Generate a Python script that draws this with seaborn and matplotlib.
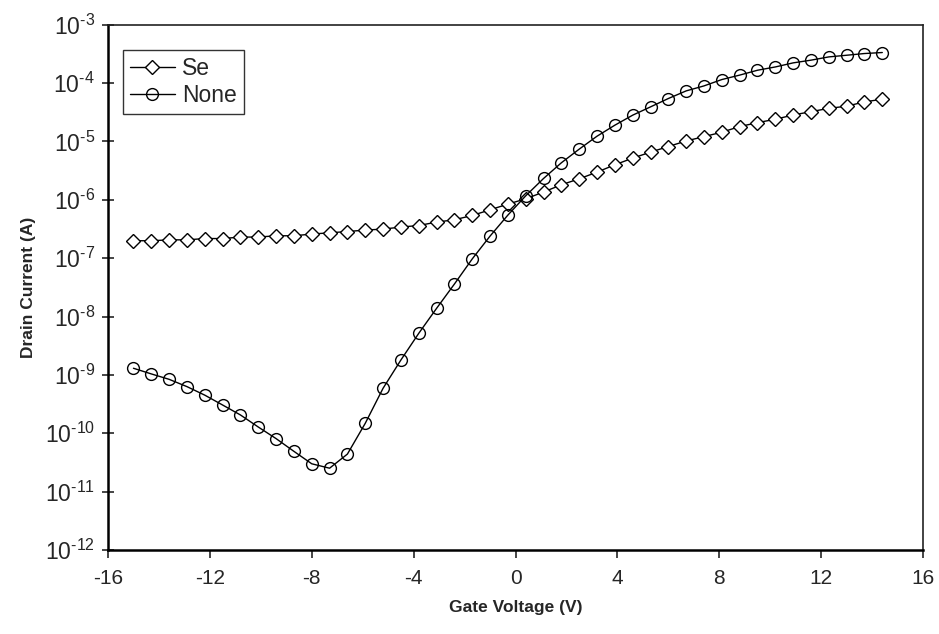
import numpy as np
import pandas as pd
import matplotlib
matplotlib.use("Agg")
import matplotlib.pyplot as plt
import matplotlib.ticker as mticker
import seaborn as sns

gate_voltage = [-15.0, -14.3, -13.6, -12.9, -12.2, -11.5, -10.8, -10.1, -9.4, -8.7,
                -8.0, -7.3, -6.6, -5.9, -5.2, -4.5, -3.8, -3.1, -2.4, -1.7,
                -1.0, -0.3, 0.4, 1.1, 1.8, 2.5, 3.2, 3.9, 4.6, 5.3,
                6.0, 6.7, 7.4, 8.1, 8.8, 9.5, 10.2, 10.9, 11.6, 12.3,
                13.0, 13.7, 14.4]

se_current = [1.99e-7, 1.99e-7, 2.06e-7, 2.06e-7, 2.17e-7, 2.17e-7, 2.30e-7, 2.30e-7, 2.42e-7, 2.42e-7,
              2.59e-7, 2.72e-7, 2.86e-7, 3.03e-7, 3.15e-7, 3.41e-7, 3.63e-7, 4.15e-7, 4.55e-7, 5.39e-7,
              6.74e-7, 8.44e-7, 1.04e-6, 1.36e-6, 1.81e-6, 2.29e-6, 2.98e-6, 3.98e-6, 5.18e-6, 6.56e-6,
              8.19e-6, 1.02e-5, 1.21e-5, 1.44e-5, 1.80e-5, 2.10e-5, 2.40e-5, 2.84e-5, 3.24e-5, 3.69e-5,
              4.02e-5, 4.76e-5, 5.30e-5]

none_current = [1.30e-9, 1.04e-9, 8.4e-10, 6.3e-10, 4.5e-10, 3.05e-10, 2.06e-10, 1.28e-10, 8.1e-11, 4.9e-11,
                3.0e-11, 2.52e-11, 4.4e-11, 1.48e-10, 5.9e-10, 1.80e-9, 5.15e-9, 1.38e-8, 3.6e-8, 9.7e-8,
                2.39e-7, 5.47e-7, 1.17e-6, 2.32e-6, 4.31e-6, 7.38e-6, 1.23e-5, 1.90e-5, 2.82e-5, 3.91e-5,
                5.44e-5, 7.35e-5, 8.95e-5, 1.15e-4, 1.37e-4, 1.66e-4, 1.89e-4, 2.22e-4, 2.47e-4, 2.81e-4,
                3.00e-4, 3.21e-4, 3.34e-4]

x_ticks = [-16, -12, -8, -4, 0, 4, 8, 12, 16]
y_exponents = [-12, -11, -10, -9, -8, -7, -6, -5, -4, -3]

sns.set_theme(style="white")
plt.rcParams['font.family'] = ['Liberation Sans', 'DejaVu Sans']
plt.rcParams['axes.unicode_minus'] = False
plt.rcParams['mathtext.fontset'] = 'custom'
plt.rcParams['mathtext.rm'] = 'Liberation Sans'
plt.rcParams['mathtext.default'] = 'regular'

fig = plt.figure(figsize=(9.39, 6.34), dpi=100)
ax = fig.add_axes([0.115, 0.1325, 0.868, 0.8285])

df_se = pd.DataFrame({"V": gate_voltage, "I": se_current})
df_none = pd.DataFrame({"V": gate_voltage, "I": none_current})

sns.lineplot(data=df_se, x="V", y="I", ax=ax, color="black", linewidth=1.0,
             marker="D", markersize=7.5, markerfacecolor="white",
             markeredgecolor="black", markeredgewidth=1.0, label="Se")
sns.lineplot(data=df_none, x="V", y="I", ax=ax, color="black", linewidth=1.0,
             marker="o", markersize=8.5, markerfacecolor="none",
             markeredgecolor="black", markeredgewidth=1.0, label="None")

ax.set_yscale("log")
ax.set_xlim(-16, 16)
ax.set_ylim(1e-12, 1e-3)
ax.set_xticks(x_ticks)
ax.set_xticklabels([str(t) for t in x_ticks])
ax.set_yticks([10.0 ** e for e in y_exponents])
ax.set_yticklabels([r"10$^{\text{%d}}$" % e for e in y_exponents])
ax.yaxis.set_minor_locator(mticker.NullLocator())

ax.tick_params(axis="x", direction="out", length=6, width=1.2, labelsize=15, pad=8, bottom=True)
ax.tick_params(axis="y", direction="inout", length=9, width=1.2, labelsize=16.5, pad=5, left=True)

for side in ["left", "bottom"]:
    ax.spines[side].set_linewidth(1.8)
    ax.spines[side].set_color("black")
for side in ["top", "right"]:
    ax.spines[side].set_linewidth(1.2)
    ax.spines[side].set_color("#222222")

ax.set_xlabel("Gate Voltage (V)", fontsize=12.5, fontweight="bold", labelpad=8)
ax.set_ylabel("Drain Current (A)", fontsize=12.5, fontweight="bold", labelpad=6)

leg = ax.legend(loc="upper left", bbox_to_anchor=(0.018, 0.951), fontsize=16.5,
                frameon=True, fancybox=False, handlelength=2.0, handletextpad=0.3,
                borderpad=0.3, labelspacing=0.15, borderaxespad=0)
leg.get_frame().set_edgecolor("black")
leg.get_frame().set_linewidth(1.0)

fig.savefig("out.png", dpi=100)
